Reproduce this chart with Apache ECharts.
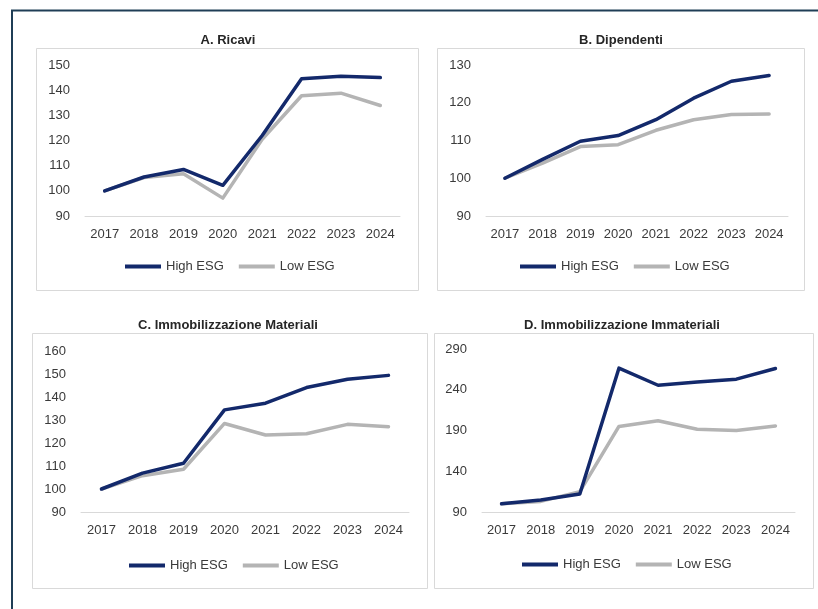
<!DOCTYPE html>
<html>
<head>
<meta charset="utf-8">
<script src="https://cdn.jsdelivr.net/npm/echarts@6/dist/echarts.min.js"></script>
<style>
  html, body { margin: 0; padding: 0; background: #fff; }
  #chart { width: 818px; height: 609px; }
</style>
</head>
<body>
<div id="chart"></div>
<script>
const years = ['2017', '2018', '2019', '2020', '2021', '2022', '2023', '2024'];
const seriesNames = ['High ESG', 'Low ESG'];
const panelTitles = ['A. Ricavi', 'B. Dipendenti', 'C. Immobilizzazione Materiali', 'D. Immobilizzazione Immateriali'];

// A. Ricavi
const ricaviHigh = [100, 105.5, 108.5, 102.2, 122, 144.5, 145.5, 145];
const ricaviLow = [100, 105.3, 106.8, 97.1, 120.5, 137.8, 138.8, 133.9];
// B. Dipendenti
const dipendentiHigh = [100, 105, 109.8, 111.3, 115.5, 121.2, 125.7, 127.2];
const dipendentiLow = [100, 104, 108.4, 108.9, 112.7, 115.5, 116.9, 117];
// C. Immobilizzazione Materiali
const materialiHigh = [100, 106.9, 111.2, 134.4, 137.3, 144.1, 147.7, 149.4];
const materialiLow = [100, 105.8, 108.6, 128.5, 123.5, 124, 128.1, 127.1];
// D. Immobilizzazione Immateriali
const immaterialiHigh = [100, 104.8, 112, 266.5, 245.5, 249.5, 253, 266];
const immaterialiLow = [100, 103, 115, 195, 202, 191.5, 190, 195.5];

// y axis ranges: [min, max, interval]
const yRanges = [[90, 150, 10], [90, 130, 10], [90, 160, 10], [90, 290, 50]];

const highColor = '#13296b';
const lowColor = '#b4b4b4';
const textColor = '#3a3a3a';

const chart = echarts.init(document.getElementById('chart'));

const grids = [
  { left: 85, top: 65, width: 315, height: 151 },
  { left: 486, top: 65, width: 302, height: 151 },
  { left: 81, top: 351, width: 328, height: 161 },
  { left: 482, top: 349, width: 313, height: 163 },
];
const boxes = [
  [36, 48, 382, 242],
  [437, 48, 367, 242],
  [32, 333, 395, 255],
  [434, 333, 379, 255],
];
const titlePos = [[228, 34], [621, 34], [228, 319], [622, 319]];
const legendPos = [[125, 260], [520, 260], [129, 559], [522, 558]];
const data = [
  [ricaviHigh, ricaviLow],
  [dipendentiHigh, dipendentiLow],
  [materialiHigh, materialiLow],
  [immaterialiHigh, immaterialiLow],
];

const series = [];
data.forEach((pair, i) => {
  pair.forEach((values, j) => {
    series.push({
      name: seriesNames[j],
      type: 'line',
      xAxisIndex: i,
      yAxisIndex: i,
      data: values,
      showSymbol: false,
      symbol: 'none',
      z: j === 0 ? 3 : 2,
      lineStyle: { color: j === 0 ? highColor : lowColor, width: 3.5, cap: 'round', join: 'round' },
      itemStyle: { color: j === 0 ? highColor : lowColor },
    });
  });
});

const option = {
  animation: false,
  backgroundColor: '#fff',
  textStyle: { fontFamily: 'Liberation Sans, Arial, sans-serif' },
  title: panelTitles.map((t, i) => ({
    text: t,
    left: titlePos[i][0],
    top: titlePos[i][1],
    textAlign: 'center',
    padding: 0,
    textStyle: { fontSize: 13, fontWeight: 'bold', color: '#262626', fontFamily: 'Liberation Sans, Arial, sans-serif' },
  })),
  legend: legendPos.map((p) => ({
    data: seriesNames,
    left: p[0],
    top: p[1],
    padding: 0,
    icon: 'rect',
    itemWidth: 36,
    itemHeight: 4,
    itemGap: 15,
    selectedMode: false,
    textStyle: { fontSize: 13, color: textColor, fontFamily: 'Liberation Sans, Arial, sans-serif' },
  })),
  grid: grids,
  xAxis: grids.map((g, i) => ({
    type: 'category',
    gridIndex: i,
    data: years,
    boundaryGap: true,
    axisLine: { show: true, lineStyle: { color: '#d9d9d9', width: 1 } },
    axisTick: { show: false },
    axisLabel: { color: textColor, fontSize: 13, margin: 12, interval: 0 },
  })),
  yAxis: grids.map((g, i) => ({
    type: 'value',
    gridIndex: i,
    min: yRanges[i][0],
    max: yRanges[i][1],
    interval: yRanges[i][2],
    axisLine: { show: false },
    axisTick: { show: false },
    splitLine: { show: false },
    axisLabel: { color: textColor, fontSize: 13, margin: 15 },
  })),
  series,
  graphic: [
    ...boxes.map((b) => ({
      type: 'rect',
      silent: true,
      z: -1,
      shape: { x: b[0] + 0.5, y: b[1] + 0.5, width: b[2], height: b[3] },
      style: { fill: 'none', stroke: '#d9d9d9', lineWidth: 1 },
    })),
    // outer frame (top and left edges)
    {
      type: 'line',
      silent: true,
      shape: { x1: 11, y1: 10.5, x2: 818, y2: 10.5 },
      style: { stroke: '#1f3e56', lineWidth: 2 },
    },
    {
      type: 'line',
      silent: true,
      shape: { x1: 12, y1: 10, x2: 12, y2: 609 },
      style: { stroke: '#1f3e56', lineWidth: 2 },
    },
  ],
};

chart.setOption(option);
</script>
</body>
</html>
